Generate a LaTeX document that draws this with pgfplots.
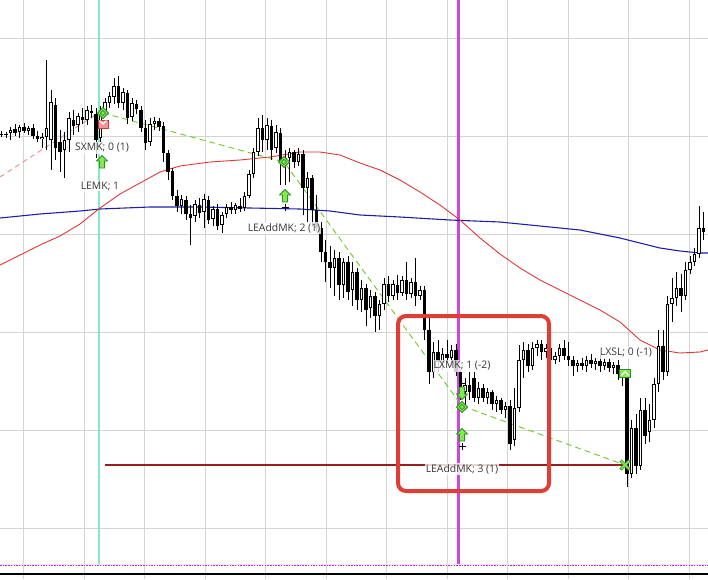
\documentclass[border=0pt]{standalone}
\usepackage{pgfplots}
\pgfplotsset{compat=1.18}
\usepackage{pgfplotstable}
\usepackage{fontspec}
\setmainfont{Open Sans}

\definecolor{gridc}{RGB}{212,212,212}
\definecolor{maBlue}{RGB}{30,30,170}
\definecolor{maRed}{RGB}{225,55,55}
\definecolor{pinkd}{RGB}{230,140,140}
\definecolor{limed}{RGB}{110,200,40}
\definecolor{mkfill}{RGB}{130,235,80}
\definecolor{mkdraw}{RGB}{50,140,40}
\definecolor{aqua}{RGB}{135,232,200}
\definecolor{magl}{RGB}{205,70,222}
\definecolor{boxred}{RGB}{222,62,54}
\definecolor{darkred}{RGB}{150,30,30}
\definecolor{txt}{RGB}{55,55,55}
\definecolor{flagpink}{RGB}{240,150,150}
\definecolor{flagred}{RGB}{200,60,60}
\definecolor{dotpink}{RGB}{250,222,245}
\definecolor{dotpur}{RGB}{160,60,190}

\pgfdeclareplotmark{uparrow}{%
  \pgfsetfillcolor{mkfill}\pgfsetstrokecolor{mkdraw}\pgfsetlinewidth{0.8pt}%
  \pgfpathmoveto{\pgfqpoint{0pt}{6.5pt}}%
  \pgfpathlineto{\pgfqpoint{5.5pt}{1pt}}%
  \pgfpathlineto{\pgfqpoint{2.6pt}{1pt}}%
  \pgfpathlineto{\pgfqpoint{2.6pt}{-6pt}}%
  \pgfpathlineto{\pgfqpoint{-2.6pt}{-6pt}}%
  \pgfpathlineto{\pgfqpoint{-2.6pt}{1pt}}%
  \pgfpathlineto{\pgfqpoint{-5.5pt}{1pt}}%
  \pgfpathclose\pgfusepathqfillstroke}
\pgfdeclareplotmark{downarrow}{%
  \pgfsetfillcolor{mkfill}\pgfsetstrokecolor{mkdraw}\pgfsetlinewidth{0.8pt}%
  \pgfpathmoveto{\pgfqpoint{0pt}{-6.5pt}}%
  \pgfpathlineto{\pgfqpoint{5.5pt}{-1pt}}%
  \pgfpathlineto{\pgfqpoint{2.6pt}{-1pt}}%
  \pgfpathlineto{\pgfqpoint{2.6pt}{6pt}}%
  \pgfpathlineto{\pgfqpoint{-2.6pt}{6pt}}%
  \pgfpathlineto{\pgfqpoint{-2.6pt}{-1pt}}%
  \pgfpathlineto{\pgfqpoint{-5.5pt}{-1pt}}%
  \pgfpathclose\pgfusepathqfillstroke}
\pgfdeclareplotmark{dmk}{%
  \pgfsetfillcolor{mkfill}\pgfsetstrokecolor{mkdraw}\pgfsetlinewidth{0.8pt}%
  \pgfpathmoveto{\pgfqpoint{0pt}{5.5pt}}%
  \pgfpathlineto{\pgfqpoint{5.5pt}{0pt}}%
  \pgfpathlineto{\pgfqpoint{0pt}{-5.5pt}}%
  \pgfpathlineto{\pgfqpoint{-5.5pt}{0pt}}%
  \pgfpathclose\pgfusepathqfillstroke
  \pgfpathmoveto{\pgfqpoint{0pt}{2.6pt}}%
  \pgfpathlineto{\pgfqpoint{2.6pt}{0pt}}%
  \pgfpathlineto{\pgfqpoint{0pt}{-2.6pt}}%
  \pgfpathlineto{\pgfqpoint{-2.6pt}{0pt}}%
  \pgfpathclose\pgfusepathqstroke}
\pgfdeclareplotmark{sflag}{%
  \pgfsetfillcolor{flagpink}\pgfsetstrokecolor{flagred}\pgfsetlinewidth{0.7pt}%
  \pgfpathrectangle{\pgfqpoint{-5pt}{-4pt}}{\pgfqpoint{10pt}{8pt}}%
  \pgfusepathqfillstroke
  \pgfsetstrokecolor{white}\pgfsetlinewidth{1.3pt}%
  \pgfpathmoveto{\pgfqpoint{-3.5pt}{3.5pt}}%
  \pgfpathlineto{\pgfqpoint{0pt}{0pt}}%
  \pgfpathlineto{\pgfqpoint{3.5pt}{3.5pt}}%
  \pgfusepathqstroke}
\pgfdeclareplotmark{gflag}{%
  \pgfsetfillcolor{mkfill}\pgfsetstrokecolor{mkdraw}\pgfsetlinewidth{0.7pt}%
  \pgfpathrectangle{\pgfqpoint{-5.5pt}{-4pt}}{\pgfqpoint{11pt}{8pt}}%
  \pgfusepathqfillstroke
  \pgfsetstrokecolor{white}\pgfsetlinewidth{1.3pt}%
  \pgfpathmoveto{\pgfqpoint{-3.5pt}{-2.5pt}}%
  \pgfpathlineto{\pgfqpoint{0pt}{1.5pt}}%
  \pgfpathlineto{\pgfqpoint{3.5pt}{-2.5pt}}%
  \pgfusepathqstroke}
\pgfdeclareplotmark{gx}{%
  \pgfsetstrokecolor{mkdraw}\pgfsetlinewidth{3pt}%
  \pgfpathmoveto{\pgfqpoint{-4.5pt}{-4.5pt}}\pgfpathlineto{\pgfqpoint{4.5pt}{4.5pt}}%
  \pgfpathmoveto{\pgfqpoint{-4.5pt}{4.5pt}}\pgfpathlineto{\pgfqpoint{4.5pt}{-4.5pt}}%
  \pgfusepathqstroke
  \pgfsetstrokecolor{mkfill}\pgfsetlinewidth{1.6pt}%
  \pgfpathmoveto{\pgfqpoint{-4pt}{-4pt}}\pgfpathlineto{\pgfqpoint{4pt}{4pt}}%
  \pgfpathmoveto{\pgfqpoint{-4pt}{4pt}}\pgfpathlineto{\pgfqpoint{4pt}{-4pt}}%
  \pgfusepathqstroke}

\pgfplotstableread{
x o h l c
1.5 134 131 137 134.5
6 135 132 138 134
10.5 133 127 140 130
15 129 124 136 133
19.5 132 125 138 127
24 127 123 133 131
28.5 131 126 135 128
33 128 124 139 136
37.5 136 131 142 139
42 139 133 148 137
46.5 137 60 150 128
51 140 90 170 102
55.5 105 98 160 148
60 142 130 172 152
64.5 150 132 178 140
69 140 112 152 118
73.5 120 110 135 126
78 125 113 132 116
82.5 117 108 124 120
87 120 106 125 110
91.5 111 105 118 113
96 114 108 158 140
100.5 138 106 142 112
105 112 98 116 102
109.5 103 92 108 96
114 97 78 104 86
118.5 86 76 108 103
123 103 88 110 92
127.5 93 90 124 118
132 117 98 121 103
136.5 104 100 114 109
141 110 106 132 128
145.5 128 120 150 143
150 142 118 146 124
154.5 124 117 130 121
159 121 118 131 127
163.5 126 122 162 153
168 153 150 180 172
172.5 171 168 200 196
177 196 190 212 206
181.5 206 195 214 199
186 200 196 220 214
190.5 214 205 245 218
195 216 200 222 204
199.5 205 198 218 213
204 212 194 228 199
208.5 200 196 224 220
213 219 206 226 209
217.5 209 204 230 226
222 225 212 233 215
226.5 214 204 218 207
231 207 202 214 210
235.5 210 203 214 205
240 206 198 212 209
244.5 208 192 211 196
249 196 170 198 174
253.5 174 148 178 152
258 152 118 156 128
262.5 128 115 152 140
267 140 118 150 125
271.5 126 120 160 150
276 148 125 153 132
280.5 133 128 185 162
285 160 150 185 158
289.5 158 148 182 152
294 152 150 168 162
298.5 162 148 166 154
303 154 150 215 188
307.5 188 172 222 178
312 178 175 224 210
316.5 210 195 232 228
321 228 222 262 252
325.5 252 240 282 262
330 262 246 288 268
334.5 268 250 296 258
339 258 252 300 285
343.5 285 258 298 262
348 262 256 300 292
352.5 290 262 306 272
357 272 268 310 300
361.5 300 280 312 288
366 288 284 326 310
370.5 308 290 318 296
375 296 292 332 316
379.5 316 300 330 304
384 304 278 310 284
388.5 284 276 302 296
393 296 280 300 284
397.5 285 275 300 293
402 293 276 296 280
406.5 280 262 300 294
411 294 278 298 282
415.5 282 258 306 296
420 296 286 300 290
424.5 290 286 340 330
429 330 318 384 372
433.5 372 342 378 352
438 352 340 372 362
442.5 362 348 370 354
447 354 340 362 358
451.5 358 345 366 350
456 350 344 376 372
460.5 372 370 400 392
465 392 378 410 385
469.5 385 372 400 392
474 378 372 402 398
478.5 398 382 404 388
483 388 384 402 398
487.5 398 388 404 392
492 392 390 410 404
496.5 404 396 412 400
501 400 398 414 410
505.5 410 402 418 406
510 406 400 450 444
514.5 440 388 446 408
519 408 345 412 360
523.5 360 342 378 350
528 350 344 372 366
532.5 366 342 370 348
537 348 340 356 344
541.5 344 340 360 352
546 352 344 358 348
550.5 348 345 366 360
555 360 352 364 356
559.5 356 344 362 348
564 348 340 360 356
568.5 356 342 366 360
573 360 356 376 366
577.5 366 360 372 363
582 363 358 370 366
586.5 366 356 372 360
591 360 354 368 364
595.5 364 358 370 361
600 361 355 372 366
604.5 366 358 370 362
609 362 358 372 368
613.5 368 362 374 365
618 365 360 380 374
622.5 374 372 386 378
627 378 376 487 474
631.5 474 420 478 428
636 428 414 474 466
640.5 466 398 470 410
645 410 398 444 436
649.5 432 404 442 420
654 420 378 428 384
658.5 384 330 392 346
663 346 330 380 372
667.5 372 296 376 304
672 304 278 322 298
676.5 298 272 306 288
681 288 274 312 296
685.5 296 262 300 270
690 270 256 274 262
694.5 262 248 266 254
699 254 206 258 228
703.5 228 212 240 232
}\candles

\begin{document}
\begin{tikzpicture}
\begin{axis}[
  width=708pt, height=579pt, scale only axis,
  xmin=0, xmax=708, ymin=0, ymax=579, y dir=reverse,
  axis line style={draw=none},
  xtick={23.5,84,144.5,205,265.5,326,386.5,447,507.5,568,628.5,689},
  ytick={38,136,234,332,430,528},
  xticklabels={}, yticklabels={},
  major tick length=0pt,
  grid=major, major grid style={gridc, line width=0.8pt},
  clip=true,
]
% session lines
\addplot[aqua, line width=2pt] coordinates {(98.5,0) (98.5,565)};
\addplot[magl, line width=3pt] coordinates {(458.3,0) (458.3,565)};
% bottom lines
\addplot[dotpink, line width=2.5pt] coordinates {(0,565) (708,565)};
\addplot[dotpur, line width=0.8pt, dash pattern=on 1.5pt off 1.2pt] coordinates {(0,565) (708,565)};
\addplot[black, line width=1.8pt] coordinates {(0,574) (708,574)};
% moving averages
\addplot[maBlue, line width=1.1pt] coordinates {
(0,218)(40,214)(80,211)(100,209)(150,207)(200,207)(250,208)(300,209)(330,211)
(360,215)(400,217)(450,220)(500,222)(550,227)(580,230)(600,234)(620,238)
(640,243)(660,248)(680,251)(700,253)(708,253)};
\addplot[maRed, line width=0.9pt] coordinates {
(0,265)(20,255)(40,245)(60,236)(80,224)(100,208)(120,194)(140,183)(160,172)
(180,166)(210,162)(240,160)(270,157)(300,152)(320,152)(340,155)(360,163)
(380,170)(400,180)(420,192)(440,205)(460,220)(480,238)(500,254)(520,268)
(540,280)(560,290)(580,300)(600,310)(620,322)(640,340)(660,350)(680,353)
(700,352)(708,350)};
\addplot[pinkd, line width=0.9pt, dash pattern=on 5pt off 4pt] coordinates {(0,177)(100,112)};
\addplot[limed, line width=0.9pt, dash pattern=on 6pt off 4pt] coordinates {(103,113)(284,162)(462,406)(625,465)};
% stop line
\addplot[darkred, line width=2pt] coordinates {(105,465)(625,465)};
% candles: wicks, bodies, hollow interiors
\addplot[draw=none, no markers, error bars/.cd, y dir=plus, y explicit, error mark=none,
  error bar style={draw=black, solid, line width=0.9pt}]
  table[x=x, y=h, y error expr=\thisrow{l}-\thisrow{h}] {\candles};
\addplot[draw=none, no markers, error bars/.cd, y dir=plus, y explicit, error mark=none,
  error bar style={draw=black, solid, line width=3.2pt}]
  table[x=x, y expr={min(\thisrow{o},\thisrow{c})}, y error expr={max(abs(\thisrow{o}-\thisrow{c}),1)}] {\candles};
\addplot[draw=none, no markers, error bars/.cd, y dir=plus, y explicit, error mark=none,
  error bar style={draw=white, solid, line width=1.5pt}]
  table[x=x, y expr={\thisrow{c}+0.8}, y error expr={max(\thisrow{o}-\thisrow{c}-1.6,0)}] {\candles};
% highlight box
\addplot[boxred, line width=4pt, rounded corners=8pt] coordinates {(398,316)(549,316)(549,491)(398,491)} -- cycle;
% trade markers
\addplot[only marks, mark=sflag] coordinates {(103,124)};
\addplot[only marks, mark=dmk] coordinates {(103,113)(284,162)(462,407)};
\addplot[only marks, mark=uparrow] coordinates {(102,162)(285,196)(462,435)};
\addplot[only marks, mark=downarrow] coordinates {(462,393)};
\addplot[only marks, mark=gflag] coordinates {(625,373)};
\addplot[only marks, mark=gx] coordinates {(625,465)};
\addplot[only marks, mark=+, mark size=3.5pt, black, mark options={line width=0.7pt}] coordinates {(285,207)(462,446)};
\addplot[only marks, mark=-, mark size=3.5pt, black, mark options={line width=0.7pt}] coordinates {(462,383)};
% label anchors
\coordinate (L1) at (axis cs:102,148);
\coordinate (L2) at (axis cs:100,186);
\coordinate (L3) at (axis cs:284,228);
\coordinate (L4) at (axis cs:462,366);
\coordinate (L5) at (axis cs:462,469);
\coordinate (L6) at (axis cs:626,353);
\end{axis}
\begin{scope}[every node/.style={font=\fontsize{10.4}{12}\selectfont, text=txt, inner sep=1pt, fill=white, fill opacity=0.8, text opacity=1}]
\node at (L1) {SXMK; 0 (1)};
\node at (L2) {LEMK; 1};
\node at (L3) {LEAddMK; 2 (1)};
\node at (L4) {LXMK; 1 (-2)};
\node at (L5) {LEAddMK; 3 (1)};
\node at (L6) {LXSL; 0 (-1)};
\end{scope}
\pgfresetboundingbox
\path (current axis.south west) rectangle (current axis.north east);
\end{tikzpicture}
\end{document}
